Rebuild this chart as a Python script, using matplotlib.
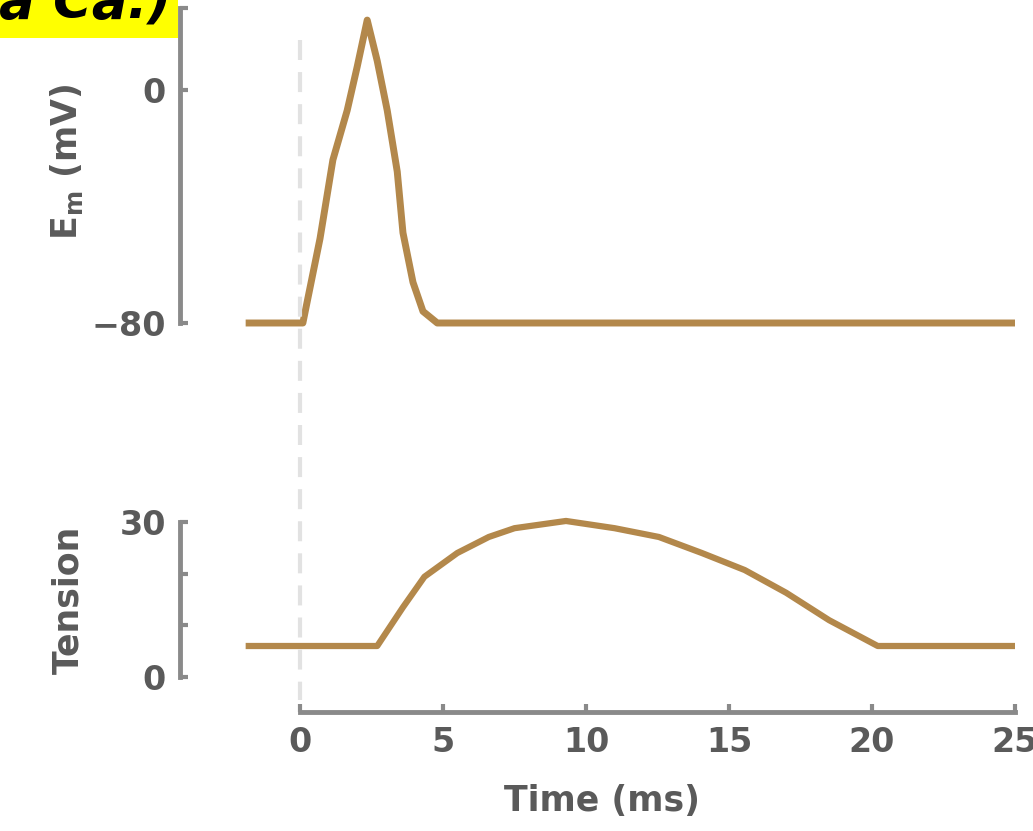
import matplotlib
matplotlib.use('Agg')
import matplotlib.pyplot as plt
import matplotlib.transforms as mtransforms
from matplotlib.lines import Line2D
from matplotlib.patches import Rectangle

# membrane potential trace (ms, mV)
em_time = [-1.9, 0.1, 0.7, 1.15, 1.65, 2.0, 2.35, 2.7, 3.05, 3.4, 3.6, 3.95,
           4.3, 4.8, 25.0]
em_mv = [-80, -80, -51, -24, -7, 8, 24, 10, -7, -28, -49, -66, -76, -80, -80]

# twitch tension trace (ms, arbitrary units)
tension_time = [-1.9, 2.7, 3.6, 4.35, 5.5, 6.6, 7.5, 9.3, 11.0, 12.55, 14.05,
                15.55, 17.0, 18.5, 20.2, 25.0]
tension_val = [6, 6, 13.5, 19.4, 24.0, 27.1, 28.8, 30.2, 28.8, 27.1, 24.0,
               20.7, 16.3, 11.0, 6, 6]

x_ticks = [0, 5, 10, 15, 20, 25]
em_ticks = [-80, 0]
tension_ticks = [0, 30]
tension_minor = [10, 20]

trace_color = '#b3884b'
axis_color = '#8a8a8a'
text_color = '#5a5a5a'

plt.rcParams['font.family'] = ['DejaVu Sans']
plt.rcParams['font.weight'] = 'bold'
plt.rcParams['axes.labelweight'] = 'bold'
plt.rcParams['mathtext.default'] = 'bf'

W, H = 1033, 831
fig = plt.figure(figsize=(W / 100, H / 100), dpi=100)


def px_rect(left, top, right, bottom):
    return [left / W, 1 - bottom / H, (right - left) / W, (bottom - top) / H]


# pixel mapping: t=0 -> x 300, t=25 -> x 1015
px_per_ms = (1015 - 300) / 25.0
ax_left, ax_right = 180, 1025
xlim = ((ax_left - 300) / px_per_ms, (ax_right - 300) / px_per_ms)
label_x = (85 - ax_left) / float(ax_right - ax_left)

# top panel: 0 mV at y 90, -80 mV at y 323
ax_top = fig.add_axes(px_rect(ax_left, 0, ax_right, 340))
mv_px = (323 - 90) / 80.0
ax_top.set_xlim(*xlim)
ax_top.set_ylim(-(340 - 90) / mv_px, 90 / mv_px)
ax_top.plot(em_time, em_mv, color=trace_color, lw=5, solid_capstyle='butt',
            solid_joinstyle='round')
for s in ['top', 'right', 'bottom']:
    ax_top.spines[s].set_visible(False)
ax_top.spines['left'].set_bounds(-80, 28)
ax_top.spines['left'].set_color(axis_color)
ax_top.spines['left'].set_linewidth(3.5)
ax_top.set_xticks([])
ax_top.set_yticks(em_ticks)
ax_top.set_yticks([28], minor=True)
ax_top.tick_params(axis='y', which='both', direction='in', length=6, width=3,
                   color=axis_color, labelsize=24, labelcolor=text_color,
                   pad=10)
ax_top.set_ylabel(r'E$_{\mathrm{m}}$ (mV)', fontsize=25, color=text_color)
ax_top.yaxis.set_label_coords(label_x, (340 - 162) / 340.0)

# bottom panel: 0 at y 677, 30 at y 522, x axis at y 712
ax_bot = fig.add_axes(px_rect(ax_left, 500, ax_right, 712))
t_px = (677 - 522) / 30.0
ax_bot.set_xlim(*xlim)
ax_bot.set_ylim(-(712 - 677) / t_px, 30 + 22 / t_px)
ax_bot.plot(tension_time, tension_val, color=trace_color, lw=4.5,
            solid_capstyle='butt', solid_joinstyle='round')
for s in ['top', 'right']:
    ax_bot.spines[s].set_visible(False)
ax_bot.spines['left'].set_bounds(0, 30)
ax_bot.spines['bottom'].set_bounds(0, 25)
for s in ['left', 'bottom']:
    ax_bot.spines[s].set_color(axis_color)
    ax_bot.spines[s].set_linewidth(3.5)
ax_bot.set_xticks(x_ticks)
ax_bot.set_yticks(tension_ticks)
ax_bot.set_yticks(tension_minor, minor=True)
ax_bot.tick_params(axis='both', which='both', direction='in', length=6,
                   width=3, color=axis_color, labelsize=24,
                   labelcolor=text_color, pad=10)
ax_bot.set_xlabel('Time (ms)', fontsize=25, color=text_color, labelpad=18)
ax_bot.set_ylabel('Tension', fontsize=25, color=text_color)
ax_bot.yaxis.set_label_coords(label_x, (712 - 600) / 212.0)

# dashed stimulus marker at t = 0 spanning both panels
trans = mtransforms.blended_transform_factory(ax_bot.transData,
                                              fig.transFigure)
stim = Line2D([0, 0], [1 - 40 / H, 1 - 700 / H], transform=trans,
              color='#e2e2e2', lw=3, dashes=(4.8, 2.9), zorder=0)
fig.lines.append(stim)

# cropped highlighted caption at the top left
fig.patches.append(Rectangle((0, 1 - 38 / H), 178 / W, 38 / H,
                             transform=fig.transFigure, facecolor='#ffff00',
                             edgecolor='none', zorder=0))
fig.text(172 / W, 1 - 18 / H, '(a Ca.)', ha='right', va='baseline',
         fontsize=38, fontweight='bold', fontstyle='italic', color='black')

fig.savefig('out.png', dpi=100)
